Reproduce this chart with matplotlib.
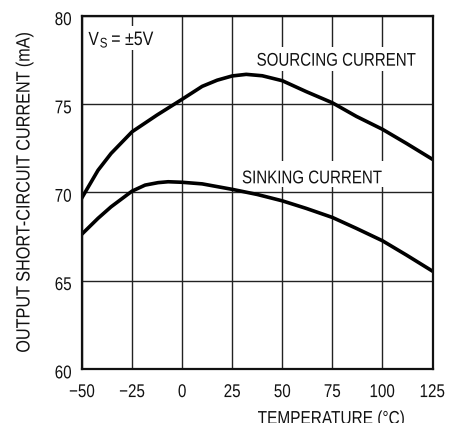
import numpy as np
import matplotlib.pyplot as plt
from matplotlib.textpath import TextPath
from matplotlib.patches import PathPatch, Rectangle
from matplotlib.font_manager import FontProperties
from matplotlib.transforms import Affine2D, IdentityTransform

# values
src_t = [-50, -42, -35.5, -25, -12.5, 0, 10, 17.5, 25, 32, 40, 50, 62, 75, 87, 100, 112, 125]
src_i = [69.7, 71.25, 72.2, 73.43, 74.38, 75.27, 76.0, 76.35, 76.59, 76.68, 76.6, 76.32, 75.7, 75.07, 74.3, 73.57, 72.77, 71.87]

snk_t = [-50, -42, -35.5, -25, -18.5, -12, -7, 0, 10, 25, 37.5, 50, 62, 75, 87, 100, 112, 125]
snk_i = [67.64, 68.53, 69.18, 70.07, 70.41, 70.55, 70.6, 70.57, 70.48, 70.17, 69.88, 69.52, 69.09, 68.58, 67.96, 67.26, 66.45, 65.54]

x_ticks = [-50, -25, 0, 25, 50, 75, 100, 125]
x_labels = ['\u221250', '\u221225', '0', '25', '50', '75', '100', '125']
y_ticks = [60, 65, 70, 75, 80]
y_labels = ['60', '65', '70', '75', '80']

W, H = 449, 423
fp = FontProperties(family='Liberation Sans')
ink = '#111111'

fig = plt.figure(figsize=(W/100, H/100), dpi=100)
ax = fig.add_axes([82/W, 1-369/H, 350.5/W, 353.3/H])


def ntext(px, py, s, em=18.5, sx=0.82, ha='left', va='baseline', rot=0):
    # narrow text: glyph path squeezed sideways, placed in image pixels (y down)
    tp = TextPath((0, 0), s, size=em, prop=fp)
    ext = tp.get_extents()
    if ha == 'left':
        dx = -ext.x0
    elif ha == 'right':
        dx = -ext.x1
    else:
        dx = -(ext.x0 + ext.x1) / 2
    dy = 0 if va == 'baseline' else -(ext.y0 + ext.y1) / 2
    tr = Affine2D().translate(dx, dy).scale(sx, 1).rotate_deg(rot).translate(px, H - py)
    p = PathPatch(tr.transform_path(tp), facecolor=ink, edgecolor='none',
                  transform=IdentityTransform(), clip_on=False, zorder=3)
    ax.add_artist(p)


def whitebox(x0, y0, x1, y1):
    r = Rectangle((x0, H - y1), x1 - x0, y1 - y0, facecolor='white', edgecolor='none',
                  transform=IdentityTransform(), clip_on=False, zorder=1.8)
    ax.add_artist(r)


ax.plot(src_t, src_i, color='black', lw=2.6, zorder=2)
ax.plot(snk_t, snk_i, color='black', lw=2.6, zorder=2)

ax.set_xlim(-50, 125)
ax.set_ylim(60, 80)
ax.set_xticks(x_ticks)
ax.set_yticks(y_ticks)
ax.set_xticklabels([])
ax.set_yticklabels([])
ax.grid(True, color='#222222', lw=1.0)
ax.tick_params(length=0)
for s in ax.spines.values():
    s.set_linewidth(1.6)
    s.set_color(ink)

# tick labels
for t, lab in zip(x_ticks, x_labels):
    px = ax.transData.transform((t, 60))[0]
    ntext(px, 390.7, lab, ha='center', va='center')
for v, lab in zip(y_ticks, y_labels):
    py = H - ax.transData.transform((-50, v))[1]
    ntext(71, py + 3, lab, ha='right', va='center')

# axis titles
ntext(258, 424, 'TEMPERATURE (\u00b0C)', em=18.8)
ntext(29.5, 192.5, 'OUTPUT SHORT-CIRCUIT CURRENT (mA)', em=19.2, sx=0.845, ha='center', rot=90)

# annotations
whitebox(85, 26, 158, 50)
ntext(88.5, 45, 'V', em=19)
ntext(100.3, 47.5, 'S', em=14)
ntext(112, 45, '= \u00b15V', em=19.5)

whitebox(253, 47, 421, 71)
ntext(257.3, 65.7, 'SOURCING CURRENT', em=18.4)

whitebox(239, 161, 389, 187)
ntext(242.7, 183.3, 'SINKING CURRENT', em=18.4)

fig.savefig('out.png', dpi=100)
